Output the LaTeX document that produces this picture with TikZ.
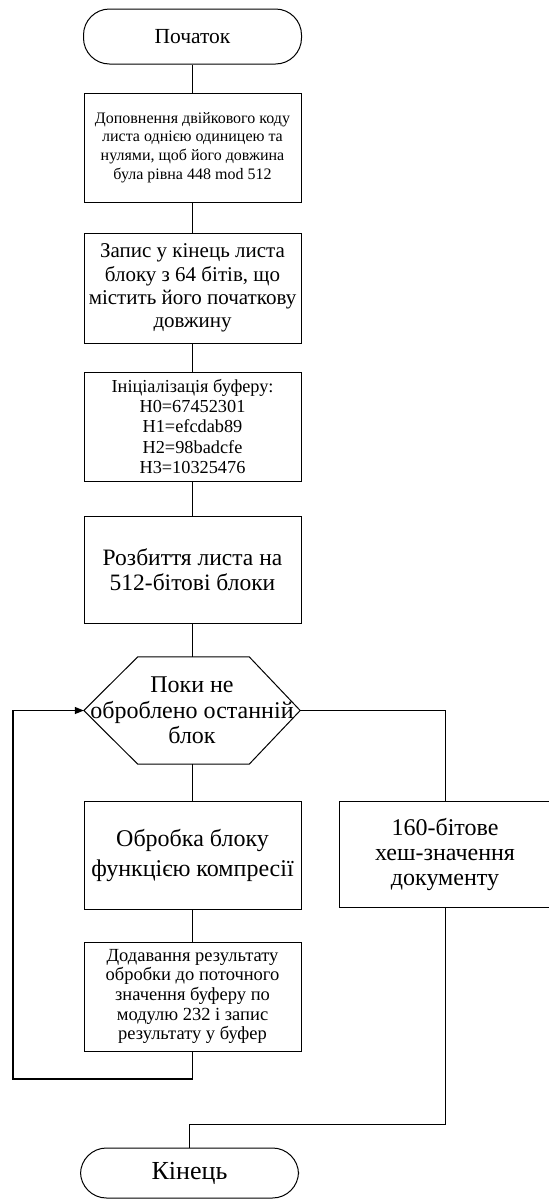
\documentclass[tikz,border=0pt]{standalone}
\usepackage{fontspec}
\setmainfont{Liberation Serif}
\usetikzlibrary{arrows.meta}

\tikzset{
  box/.style={draw=black, line width=1pt, rectangle, minimum width=217pt,
    inner sep=1pt, align=center, fill=white},
  term/.style={draw=black, line width=1pt, rectangle, rounded corners=26pt,
    minimum width=218pt, align=center},
  hexlabel/.style={rectangle, minimum width=216pt, minimum height=107pt,
    inner sep=0pt, align=center},
  link/.style={draw=black, line width=0.9pt},
  fs/.style 2 args={font=\fontsize{#1}{#2}\selectfont}
}

\begin{document}
\begin{tikzpicture}[x=1pt, y=-1pt]
\useasboundingbox (0,0) rectangle (549,1200);

% main column
\node[term, minimum height=55pt, fs={21.5}{26}] (start) at (192.5,36.5) {Початок};

\node[box, minimum height=109pt, fs={16}{18.7}] (pad) at (192.5,147.5)
  {Доповнення двійкового коду\\листа однією одиницею та\\нулями, щоб його довжина\\була рівна 448 mod 512};

\node[box, minimum height=110pt, fs={21}{23.3}] (len) at (192.5,288)
  {Запис у кінець листа\\блоку з 64 бітів, що\\містить його початкову\\довжину};

\node[box, minimum height=109pt, fs={18.3}{20.3}] (init) at (192.5,426.5)
  {Ініціалізація буферу:\\H0=67452301\\H1=efcdab89\\H2=98badcfe\\H3=10325476};

\node[box, minimum height=107pt, fs={23.5}{25}] (split) at (192.5,569.5)
  {Розбиття листа на\\512-бітові блоки};

% loop condition (hexagon)
\node[hexlabel, fs={24}{25.5}] (loop) at (192,710.5)
  {Поки не\\оброблено останній\\блок};
\draw[line width=1pt] (loop.west) -- ([xshift=54pt]loop.north west)
  -- ([xshift=-51pt]loop.north east) -- (loop.east)
  -- ([xshift=-51pt]loop.south east) -- ([xshift=54pt]loop.south west) -- cycle;

\node[box, minimum height=108pt, fs={24}{30}] (comp) at (192.5,855)
  {Обробка блоку\\функцією компресії};

\node[box, minimum height=109pt, fs={18.5}{19.7}] (add) at (192.5,996.5)
  {Додавання результату\\обробки до поточного\\значення буферу по\\модулю 232 і запис\\результату у буфер};

% branch on exit
\node[box, minimum width=212pt, minimum height=106pt, fs={24}{25}] (hash) at (445,854)
  {160-бітове\\хеш-значення\\документу};

\node[term, minimum height=50pt, fs={26}{28}] (finish) at (189.5,1173) {Кінець};

% connectors
\draw[link] (start) -- (pad);
\draw[link] (pad) -- (len);
\draw[link] (len) -- (init);
\draw[link] (init) -- (split);
\draw[link] (split.south) -- (split.south |- loop.north);
\draw[link] (loop.south) -- (loop.south |- comp.north);
\draw[link] (comp) -- (add);

\coordinate (back) at (13,1079);
\draw[link, line width=1.3pt, -{Triangle[length=9pt,width=7pt]}]
  (add.south) |- (back) |- (loop.west);

\draw[link] (loop.east) -| (hash.north);

\coordinate (join) at (189.5,1124);
\draw[link] (hash.south) |- (join) -- (finish.north);
\end{tikzpicture}
\end{document}
